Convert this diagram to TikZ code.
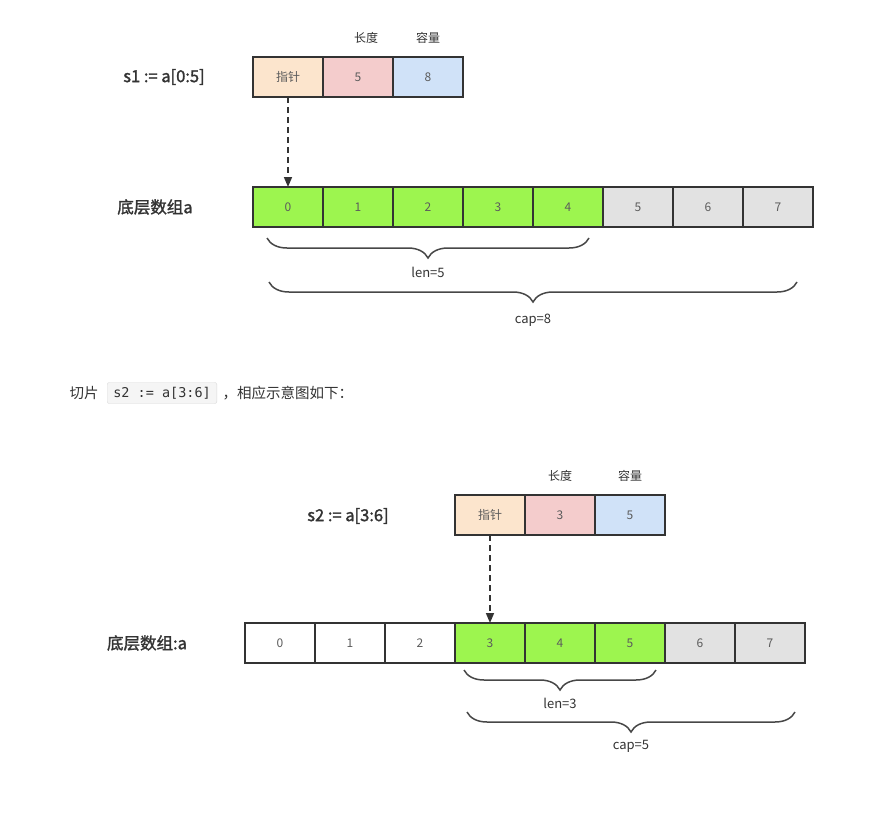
\documentclass[tikz,border=0pt]{standalone}
\usepackage{fontspec}
\setmainfont{Noto Sans CJK SC}
\setmonofont{DejaVu Sans Mono}
\newfontfamily\titlefont[FakeBold=1.6]{Noto Sans CJK SC}
\usetikzlibrary{arrows.meta, positioning, decorations.pathreplacing}
\definecolor{ptrPeach}{RGB}{252, 229, 205}
\definecolor{lenPink}{RGB}{244, 204, 204}
\definecolor{capBlue}{RGB}{208, 226, 248}
\definecolor{usedGreen}{RGB}{157, 245, 79}
\definecolor{freeGrey}{RGB}{226, 226, 226}
\definecolor{inkGrey}{RGB}{51, 51, 51}

\begin{document}
\begin{tikzpicture}[
    x=1pt, y=1pt,
    node distance=0pt,
    cell/.style={
      rectangle, draw=inkGrey, line width=1.5pt,
      minimum width=70pt, minimum height=40pt, inner sep=0pt, outer sep=0pt,
      font=\fontsize{12}{14}\selectfont, text=inkGrey!80
    },
    title/.style={font=\titlefont\fontsize{16.5}{19}\selectfont, text=inkGrey},
    head/.style={font=\fontsize{12}{14}\selectfont, text=inkGrey},
    note/.style={font=\fontsize{14.5}{17}\selectfont, text=inkGrey},
    codebox/.style={
      rectangle, draw=black!15, fill=black!4, rounded corners=2pt,
      minimum height=21pt, inner xsep=6pt, font=\ttfamily\fontsize{13.5}{16}\selectfont,
      text=inkGrey
    },
    arrow/.style={-{Triangle[length=10pt, width=8pt]}, line width=1.5pt,
      dash pattern=on 6pt off 4pt, inkGrey},
    brace/.style={decorate, decoration={brace, mirror, amplitude=20pt},
      line width=1.5pt, inkGrey!90},
    label/.style={font=\fontsize{13}{15}\selectfont, text=inkGrey}
  ]
    \fill[white] (0,0) rectangle (881,-814);
    \useasboundingbox (0,0) rectangle (881,-814);

    % First slice header
    \node[cell, fill=ptrPeach] (ptr1) at (288,-77) {指针};
    \node[cell, fill=lenPink, right=of ptr1] (len1) {5};
    \node[cell, fill=capBlue, right=of len1] (cap1) {8};
    \node[head, above=10pt of len1, xshift=8pt] (lenhead1) {长度};
    \node[head, above=10pt of cap1] (caphead1) {容量};
    \node[title] (s1) at (164,-77) {s1 := a[0:5]};

    % First underlying array
    \node[title] (arr1) at (155,-207) {底层数组a};
    \node[cell, fill=usedGreen] (a0) at (288,-207) {0};
    \foreach \i/\c [remember=\i as \j (initially 0)] in {1/usedGreen, 2/usedGreen, 3/usedGreen,
        4/usedGreen, 5/freeGrey, 6/freeGrey, 7/freeGrey}
      \node[cell, fill=\c, right=of a\j] (a\i) {\i};

    \draw[arrow] (ptr1) -- (a0);

    % len and cap of s1
    \draw[brace] ([xshift=14pt, yshift=-11pt]a0.south west) -- ([xshift=-14pt, yshift=-11pt]a4.south east)
      node[label, midway, yshift=-34pt] (lenlabel1) {len=5};
    \draw[brace] ([xshift=16pt, yshift=-55pt]a0.south west) -- ([xshift=-16pt, yshift=-55pt]a7.south east)
      node[label, midway, yshift=-38pt] (caplabel1) {cap=8};

    % Text line
    \node[note, anchor=west] (cut) at (66,-393) {切片};
    \node[codebox, right=5pt of cut] (code) {s2 := a[3:6]};
    \node[note, right=2pt of code] (rest) {，相应示意图如下：};

    % Second slice header
    \node[cell, fill=ptrPeach] (ptr2) at (490,-515) {指针};
    \node[cell, fill=lenPink, right=of ptr2] (len2) {3};
    \node[cell, fill=capBlue, right=of len2] (cap2) {5};
    \node[head, above=10pt of len2] (lenhead2) {长度};
    \node[head, above=10pt of cap2] (caphead2) {容量};
    \node[title] (s2) at (348,-516) {s2 := a[3:6]};

    % Second underlying array
    \node[title] (arr2) at (147,-643) {底层数组:a};
    \node[cell, fill=white] (b0) at (280,-643) {0};
    \foreach \i/\c [remember=\i as \j (initially 0)] in {1/white, 2/white, 3/usedGreen,
        4/usedGreen, 5/usedGreen, 6/freeGrey, 7/freeGrey}
      \node[cell, fill=\c, right=of b\j] (b\i) {\i};

    \draw[arrow] (ptr2) -- (b3);

    % len and cap of s2
    \draw[brace] ([xshift=9pt, yshift=-7pt]b3.south west) -- ([xshift=-9pt, yshift=-7pt]b5.south east)
      node[label, midway, yshift=-33pt] (lenlabel2) {len=3};
    \draw[brace] ([xshift=12pt, yshift=-49pt]b3.south west) -- ([xshift=-10pt, yshift=-49pt]b7.south east)
      node[label, midway, yshift=-34pt] (caplabel2) {cap=5};
  \end{tikzpicture}
\end{document}
